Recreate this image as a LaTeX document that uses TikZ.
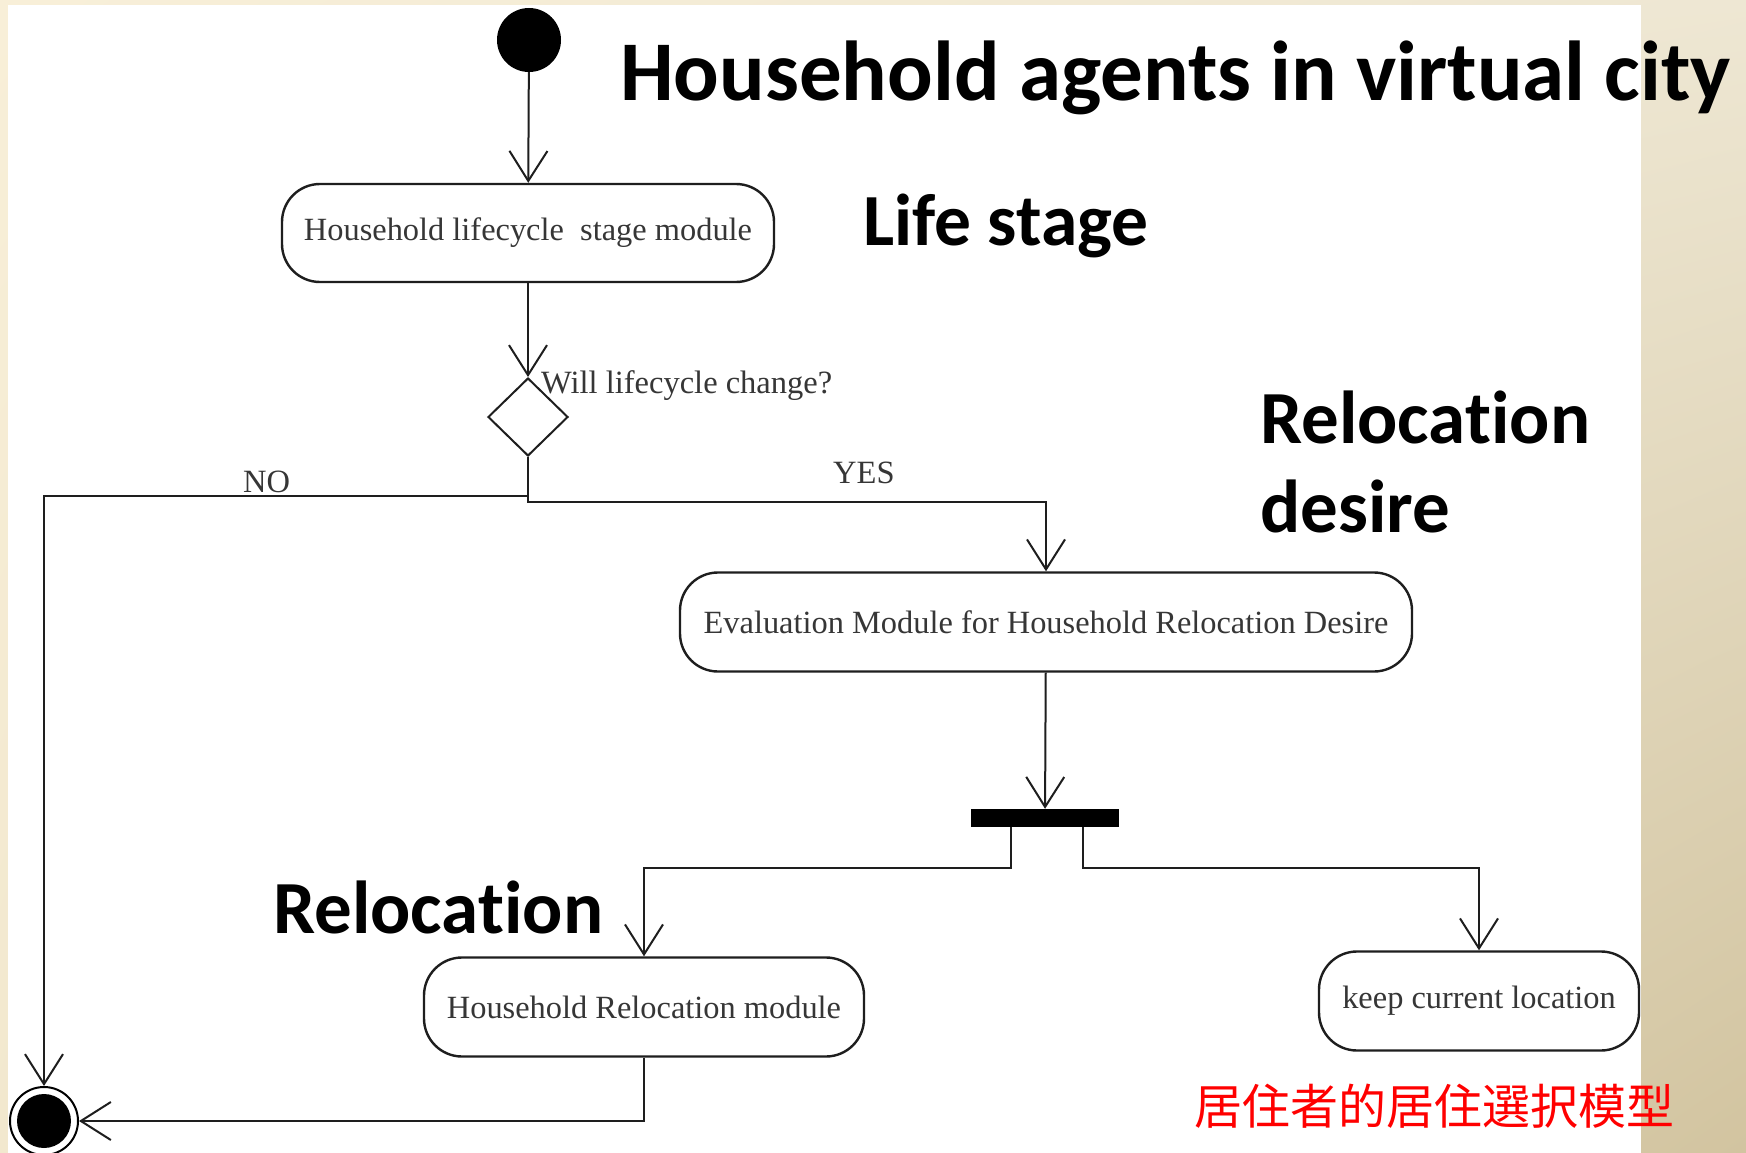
\documentclass[tikz,border=0pt]{standalone}
\usepackage{fontspec}
\usetikzlibrary{arrows.meta,shapes.geometric,shadings}
\newfontfamily\titlefont{Carlito}[Ligatures=NoCommon]
\newfontfamily\diagfont{Liberation Serif}
\newfontfamily\cjkfont{Noto Sans CJK JP}
\definecolor{creamA}{HTML}{F8EFD8}
\definecolor{creamB}{HTML}{F2E8CE}
\definecolor{tanA}{HTML}{EEE7D3}
\definecolor{tanB}{HTML}{D2C4A0}
\definecolor{inkgrey}{HTML}{363636}
\definecolor{linegrey}{HTML}{1E1E1E}
\tikzset{
  actbox/.style={draw=linegrey, line width=2.4pt, rounded corners=38pt, fill=white,
                 inner sep=0pt, font=\diagfont\fontsize{32.4}{36}\selectfont, text=inkgrey},
  flow/.style={draw=linegrey, line width=2pt, -{Straight Barb[length=30pt,width=38pt,line width=2pt]}},
  heading/.style={font=\titlefont\bfseries\fontsize{75}{80}\selectfont, text=black, inner sep=0pt},
  smalllabel/.style={font=\diagfont\fontsize{32.5}{36}\selectfont, text=inkgrey, inner sep=0pt},
}
\begin{document}
\begin{tikzpicture}[x=1pt,y=-1pt]
% slide backdrop and white panel
\shade[upper left=creamA, lower left=creamB, upper right=tanA, lower right=tanB]
  (0,0) rectangle (1746,1153);
\fill[white] (8,5) rectangle (1641,1153);
\useasboundingbox (0,0) rectangle (1746,1153);

% activity nodes
\node[circle, fill=black, minimum size=64pt, inner sep=0pt] (start) at (529,40) {};
\node[actbox, minimum width=492pt, minimum height=98pt] (life) at (528,233)
  {Household lifecycle\ \ stage module};
\node[diamond, draw=linegrey, line width=2pt, fill=white, minimum width=80pt,
      minimum height=78pt, inner sep=0pt] (choice) at (528,417) {};
\node[actbox, minimum width=732pt, minimum height=99pt] (desire) at (1046,622)
  {Evaluation Module for Household Relocation Desire};
\node[rectangle, fill=black, minimum width=148pt, minimum height=18pt, inner sep=0pt]
  (fork) at (1045,818) {};
\node[actbox, minimum width=440pt, minimum height=99pt] (move) at (644,1007)
  {Household Relocation module};
\node[actbox, minimum width=320pt, minimum height=99pt] (stay) at (1479,1001)
  {keep current location};
\node[circle, draw=black, line width=2pt, fill=white, minimum size=68pt, inner sep=0pt]
  (finish) at (44,1121) {};
\node[circle, fill=black, minimum size=54pt, inner sep=0pt] at (finish.center) {};

% control flow
\draw[flow] (start) -- (life);
\draw[flow] (life) -- (choice);
\draw[flow] (choice.south) -- ++(0,39) -| (finish.north);
\draw[flow] (choice.south) -- ++(0,45) -| (desire.north);
\draw[flow] (desire) -- (fork);
\draw[flow] ([xshift=-34pt]fork.south) -- ++(0,41) -| (move.north);
\draw[flow] ([xshift=38pt]fork.south) -- ++(0,41) -| (stay.north);
\draw[flow] (move.south) |- (finish.east);

% guards and notes
\node[smalllabel, anchor=base west] (q) at (541,393) {Will lifecycle change?};
\node[smalllabel, anchor=base west] (no) at (243,492) {NO};
\node[smalllabel, anchor=base west] (yes) at (833,483) {YES};

% headings
\node[heading, anchor=base west, font=\titlefont\bfseries\fontsize{85}{90}\selectfont]
  (title) at (620,101) {Household agents in virtual city};
\node[heading, anchor=base west, font=\titlefont\bfseries\fontsize{73.5}{80}\selectfont]
  (h1) at (863,245) {Life stage};
\node[heading, anchor=base west] (h2) at (1260,443) {Relocation};
\node[heading, anchor=base west] (h3) at (1260,532) {desire};
\node[heading, anchor=base west] (h4) at (273,933) {Relocation};
\node[font=\cjkfont\fontsize{48}{52}\selectfont, text=red, anchor=west, inner sep=0pt]
  (jp) at (1194,1106) {居住者的居住選択模型};
\end{tikzpicture}
\end{document}
